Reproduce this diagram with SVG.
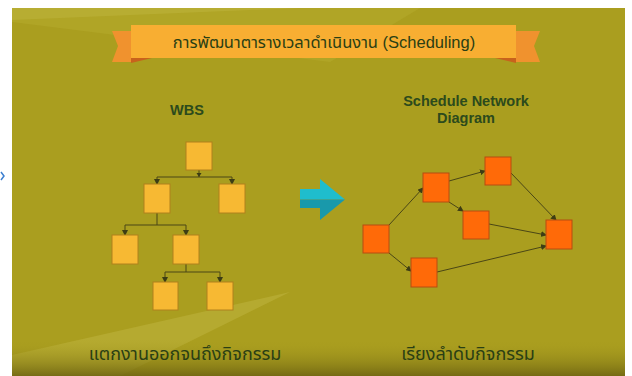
<svg xmlns="http://www.w3.org/2000/svg" width="632" height="376" viewBox="0 0 632 376">
<defs>
<linearGradient id="bot" x1="0" y1="0" x2="0" y2="1">
<stop offset="0" stop-color="#a99d1f" stop-opacity="0"/>
<stop offset="1" stop-color="#6f6512" stop-opacity="0.9"/>
</linearGradient>
<marker id="ah" markerWidth="6" markerHeight="6" refX="5" refY="3" orient="auto" markerUnits="userSpaceOnUse">
<path d="M0,0 L6,3 L0,6 z" fill="#3d3d14"/>
</marker>
</defs>
<style>
.wbs{fill:#f7b933;stroke:#b0801d;stroke-width:1}
.net{fill:#ff6a08;stroke:#b64c10;stroke-width:1}
.ln{fill:none;stroke:#4a4616;stroke-width:1}
.ar{fill:none;stroke:#4a4616;stroke-width:1;marker-end:url(#ah)}
.hd{font-family:"Liberation Sans","Noto Sans Thai",sans-serif;font-weight:bold;fill:#2c4a1c;text-anchor:middle}
.th{font-family:"Liberation Sans","Noto Sans Thai",sans-serif;fill:#2a3f14;text-anchor:middle}
</style>
<rect width="632" height="376" fill="#ffffff"/>
<path d="M1,172 L4,176 L1,180" fill="none" stroke="#3c7fd0" stroke-width="1.5"/>
<g id="background">
<rect x="12" y="8" width="613" height="368" fill="#aa9e1f"/>
<path d="M12,8 L420,8 L330,62 L12,22 z" fill="#b9ae33" opacity="0.4"/>
<path d="M12,8 L300,8 L12,20 z" fill="#bdb23a" opacity="0.6"/>
<path d="M12,376 L12,355 L290,292 L120,376 z" fill="#b8ad35" opacity="0.8"/>
<rect x="12" y="340" width="613" height="36" fill="url(#bot)"/>
</g>
<g id="banner">
<path d="M112,31 L131,31 L131,62 L112,62 L118,46 z" fill="#f0922e"/>
<path d="M540,31 L516,31 L516,62 L540,62 L534,46 z" fill="#f0922e"/>
<path d="M131,58 L152,58 L131,63 z" fill="#c8621c"/>
<path d="M516,58 L495,58 L516,63 z" fill="#c8621c"/>
<rect x="131" y="25" width="385" height="33" fill="#f8ae32"/>
<text class="th" x="324" y="48" font-size="16.5">การพัฒนาตารางเวลาดำเนินงาน (Scheduling)</text>
</g>
<text class="hd" x="187" y="115" font-size="14.5">WBS</text>
<text class="hd" x="466" y="106" font-size="14.5">Schedule Network</text>
<text class="hd" x="466" y="123" font-size="14.5">Diagram</text>
<g id="connectors">
<path class="ln" d="M199,170 V177 M157,177 H232"/>
<path class="ar" d="M157,177 V184"/>
<path class="ar" d="M232,177 V184"/>
<path d="M196.5,173 L201.5,173 L199,177 z" fill="#3d3d14"/>
<path class="ln" d="M157,213 V225 M125,225 H186"/>
<path class="ar" d="M125,225 V235"/>
<path class="ar" d="M186,225 V235"/>
<path class="ln" d="M186,264 V272 M165,272 H220"/>
<path class="ar" d="M165,272 V282"/>
<path class="ar" d="M220,272 V282"/>
<path class="ar" d="M389,225 L423,188"/>
<path class="ar" d="M389,253 L411,271"/>
<path class="ar" d="M449,181 L485,171"/>
<path class="ar" d="M449,202 L463,211"/>
<path class="ar" d="M511,173 L556,220"/>
<path class="ar" d="M489,224 L546,235"/>
<path class="ar" d="M437,272 L546,246"/>
</g>
<g id="w1"><rect class="wbs" x="186" y="142" width="26" height="28"/></g>
<g id="w2"><rect class="wbs" x="144" y="184" width="26" height="29"/></g>
<g id="w3"><rect class="wbs" x="219" y="184" width="26" height="29"/></g>
<g id="w4"><rect class="wbs" x="112" y="235" width="26" height="29"/></g>
<g id="w5"><rect class="wbs" x="173" y="235" width="26" height="29"/></g>
<g id="w6"><rect class="wbs" x="153" y="282" width="25" height="28"/></g>
<g id="w7"><rect class="wbs" x="207" y="282" width="26" height="28"/></g>
<g id="bigArrow">
<path d="M300,189 H320 V179 L345,199.5 H300 z" fill="#1fbdcd"/>
<path d="M300,199.5 H345 L320,220 V208 H300 z" fill="#1999ab"/>
</g>
<g id="nA"><rect class="net" x="363" y="225" width="26" height="28"/></g>
<g id="nB"><rect class="net" x="423" y="173" width="26" height="29"/></g>
<g id="nC"><rect class="net" x="485" y="157" width="26" height="28"/></g>
<g id="nD"><rect class="net" x="463" y="211" width="26" height="28"/></g>
<g id="nE"><rect class="net" x="411" y="258" width="26" height="29"/></g>
<g id="nF"><rect class="net" x="546" y="220" width="26" height="29"/></g>
<text class="th" x="185" y="360" font-size="18">แตกงานออกจนถึงกิจกรรม</text>
<text class="th" x="468" y="360" font-size="18">เรียงลำดับกิจกรรม</text>
</svg>
